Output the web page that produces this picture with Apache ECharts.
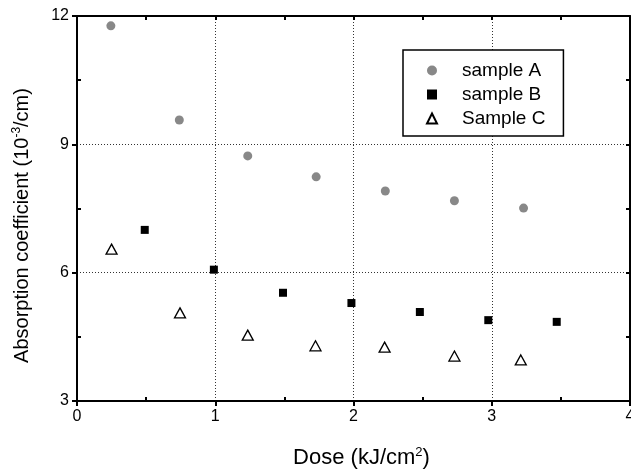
<!DOCTYPE html>
<html>
<head>
<meta charset="utf-8">
<script src="https://cdn.jsdelivr.net/npm/echarts@6/dist/echarts.min.js"></script>
<style>html,body{margin:0;padding:0;background:#fff}#c{width:631px;height:473px}</style>
</head>
<body>
<div id="c"></div>
<script>
const seriesNames = ['sample A', 'sample B', 'Sample C'];
const doseA = [0.245, 0.74, 1.235, 1.73, 2.23, 2.73, 3.23];
const absA = [11.77, 9.57, 8.73, 8.24, 7.91, 7.68, 7.51];
const doseB = [0.49, 0.99, 1.49, 1.985, 2.48, 2.975, 3.47];
const absB = [7.00, 6.07, 5.53, 5.29, 5.08, 4.89, 4.85];
const doseC = [0.25, 0.745, 1.235, 1.725, 2.225, 2.73, 3.21];
const absC = [6.55, 5.06, 4.54, 4.29, 4.26, 4.05, 3.96];
const xTicks = [0, 1, 2, 3, 4];
const yTicks = [3, 6, 9, 12];

const pairs = (xs, ys) => xs.map((x, i) => [x, ys[i]]);
const FONT = 'Liberation Sans, Arial, sans-serif';
const lineStyle = { color: '#000', width: 2 };
const split = { show: true, lineStyle: { color: '#333', type: [1, 2], width: 1 } };
const supStyle = { fontFamily: FONT, fontSize: 12, verticalAlign: 'top', lineHeight: 22, padding: [0, 0, 9, 0], color: '#000' };

const chart = echarts.init(document.getElementById('c'));
chart.setOption({
  animation: false,
  backgroundColor: '#fff',
  grid: { left: 77, right: 1, top: 16, bottom: 72, containLabel: false, outerBoundsMode: 'none' },
  legend: {
    orient: 'vertical', left: 403, top: 50,
    data: seriesNames,
    itemWidth: 10, itemHeight: 10, itemGap: 3,
    padding: [10, 18, 7, 23],
    borderColor: '#000', borderWidth: 1.5, borderRadius: 0,
    backgroundColor: '#fff',
    textStyle: { fontFamily: FONT, fontSize: 19, lineHeight: 21, color: '#000', padding: [0, 0, 0, 20] }
  },
  xAxis: [
    {
      type: 'value', position: 'bottom', min: 0, max: 4, interval: 1,
      axisLine: { show: true, onZero: false, lineStyle },
      axisTick: { show: true, length: 5, lineStyle },
      axisLabel: { fontFamily: FONT, fontSize: 16, color: '#000', margin: 8,
        formatter: v => xTicks.includes(v) ? String(v) : '' },
      splitLine: split,
      name: 'Dose (kJ/cm{sup|2})', nameLocation: 'middle', nameGap: 45,
      nameTextStyle: { fontFamily: FONT, fontSize: 22, color: '#000', lineHeight: 24, padding: [0, 0, 0, 16],
        rich: { sup: Object.assign({}, supStyle, { fontSize: 13, lineHeight: 24 }) } }
    },
    {
      type: 'value', position: 'bottom', min: 0, max: 4, interval: 1, gridIndex: 0,
      axisLine: { show: false, onZero: false },
      axisTick: { show: false, inside: true },
      minorTick: { show: true, splitNumber: 2, length: 4, lineStyle },
      axisLabel: { show: false }, splitLine: { show: false }
    },
    {
      type: 'value', position: 'top', min: 0, max: 4, interval: 1,
      axisLine: { show: true, onZero: false, lineStyle },
      axisTick: { show: true, inside: true, length: 4, lineStyle },
      minorTick: { show: true, splitNumber: 2, length: 4, lineStyle },
      axisLabel: { show: false }, splitLine: { show: false }
    }
  ],
  yAxis: [
    {
      type: 'value', position: 'left', min: 3, max: 12, interval: 3,
      axisLine: { show: true, onZero: false, lineStyle },
      axisTick: { show: true, length: 5, lineStyle },
      axisLabel: { fontFamily: FONT, fontSize: 16, color: '#000', margin: 8,
        formatter: v => yTicks.includes(v) ? String(v) : '' },
      splitLine: split,
      name: 'Absorption coefficient (10{sup|-3}/cm)', nameLocation: 'middle', nameGap: 44,
      nameTextStyle: { fontFamily: FONT, fontSize: 20, color: '#000', lineHeight: 22, padding: [0, 34, 0, 0],
        rich: { sup: supStyle } }
    },
    {
      type: 'value', position: 'left', min: 3, max: 12, interval: 3,
      axisLine: { show: false, onZero: false },
      axisTick: { show: false, inside: true },
      minorTick: { show: true, splitNumber: 2, length: 4, lineStyle },
      axisLabel: { show: false }, splitLine: { show: false }
    },
    {
      type: 'value', position: 'right', min: 3, max: 12, interval: 3,
      axisLine: { show: true, onZero: false, lineStyle },
      axisTick: { show: true, inside: true, length: 4, lineStyle },
      minorTick: { show: true, splitNumber: 2, length: 4, lineStyle },
      axisLabel: { show: false }, splitLine: { show: false }
    }
  ],
  series: [
    { name: seriesNames[0], type: 'scatter', data: pairs(doseA, absA), symbol: 'circle', symbolSize: 9,
      itemStyle: { color: '#888888', opacity: 1 }, z: 5 },
    { name: seriesNames[1], type: 'scatter', data: pairs(doseB, absB), symbol: 'rect', symbolSize: 8,
      itemStyle: { color: '#000', opacity: 1 }, z: 5 },
    { name: seriesNames[2], type: 'scatter', data: pairs(doseC, absC), symbol: 'triangle', symbolSize: [11, 10],
      itemStyle: { color: '#fff', borderColor: '#000', borderWidth: 1.3, opacity: 1 }, z: 5 }
  ]
});
</script>
</body>
</html>
